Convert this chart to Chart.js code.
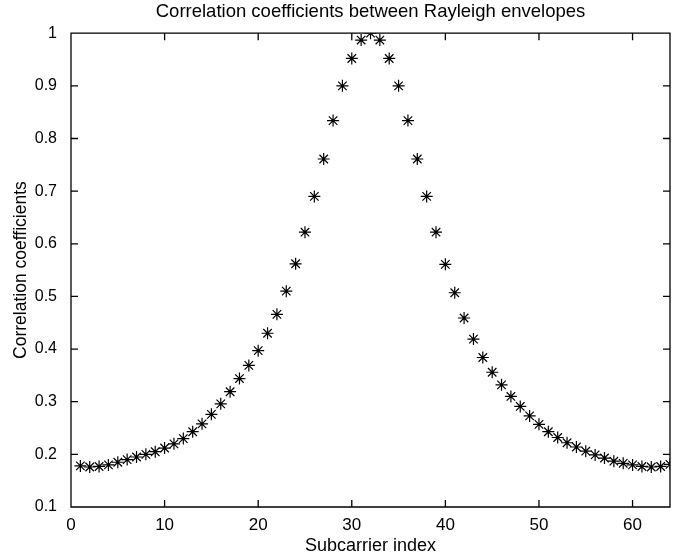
<!DOCTYPE html>
<html>
<head>
<meta charset="utf-8">
<script src="https://cdn.jsdelivr.net/npm/chart.js@4"></script>
<style>
  html, body { margin: 0; padding: 0; background: #fff; }
  #wrap { width: 684px; height: 557px; position: relative; }
</style>
</head>
<body>
<div id="wrap"><canvas id="chart" width="684" height="557"></canvas></div>
<script>
// subcarrier index (x)
const subcarriers = [
  1, 2, 3, 4, 5, 6, 7, 8, 9, 10, 11, 12, 13, 14, 15, 16,
  17, 18, 19, 20, 21, 22, 23, 24, 25, 26, 27, 28, 29, 30, 31, 32,
  33, 34, 35, 36, 37, 38, 39, 40, 41, 42, 43, 44, 45, 46, 47, 48,
  49, 50, 51, 52, 53, 54, 55, 56, 57, 58, 59, 60, 61, 62, 63, 64
];
// correlation coefficients
const correlation = [
  0.178, 0.176, 0.177, 0.180, 0.185, 0.190, 0.195, 0.200,
  0.205, 0.212, 0.220, 0.230, 0.243, 0.258, 0.276, 0.296,
  0.319, 0.344, 0.369, 0.397, 0.430, 0.466, 0.510, 0.562,
  0.622, 0.690, 0.761, 0.834, 0.900, 0.952, 0.987, 1.000,
  0.987, 0.952, 0.900, 0.834, 0.761, 0.690, 0.622, 0.561,
  0.507, 0.459, 0.419, 0.384, 0.356, 0.332, 0.310, 0.291,
  0.273, 0.257, 0.243, 0.232, 0.222, 0.214, 0.206, 0.199,
  0.193, 0.187, 0.183, 0.180, 0.177, 0.176, 0.177, 0.181
];
const xTicks = [0, 10, 20, 30, 40, 50, 60];
const yTicks = [0.1, 0.2, 0.3, 0.4, 0.5, 0.6, 0.7, 0.8, 0.9, 1];

const FONT = '"Liberation Sans", Arial, Helvetica, sans-serif';

// matlab style box with inward ticks on all four sides
function drawBox(chart) {
  const c = chart.ctx;
  const a = chart.chartArea;
  const len = 7;
  c.save();
  c.strokeStyle = '#000000';
  c.lineWidth = 1.3;
  c.setLineDash([]);
  c.beginPath();
  c.moveTo(a.left, a.top); c.lineTo(a.right, a.top);
  c.lineTo(a.right, a.bottom); c.lineTo(a.left, a.bottom);
  c.closePath();
  xTicks.forEach(v => {
    const px = chart.scales.x.getPixelForValue(v);
    c.moveTo(px, a.bottom); c.lineTo(px, a.bottom - len);
    c.moveTo(px, a.top); c.lineTo(px, a.top + len);
  });
  yTicks.forEach(v => {
    const py = chart.scales.y.getPixelForValue(v);
    c.moveTo(a.left, py); c.lineTo(a.left + len, py);
    c.moveTo(a.right, py); c.lineTo(a.right - len, py);
  });
  c.stroke();
  c.restore();
}

const chartCtx = document.getElementById('chart').getContext('2d');
const chart = new Chart(chartCtx, {
  type: 'scatter',
  data: {
    datasets: [{
      data: subcarriers.map((x, i) => ({ x: x, y: correlation[i] })),
      showLine: false,
      pointStyle: 'star',
      pointRadius: 6,
      borderColor: '#000',
      backgroundColor: '#000',
      borderWidth: 1.2
    }]
  },
  options: {
    responsive: false,
    animation: false,
    layout: { padding: { left: 0, right: 14, top: 0, bottom: 0 } },
    plugins: {
      legend: { display: false },
      tooltip: { enabled: false },
      title: {
        display: true,
        fullSize: false,
        text: 'Correlation coefficients between Rayleigh envelopes',
        color: '#000',
        font: { family: FONT, size: 18.5, weight: 'normal' },
        padding: { top: 1, bottom: 10 }
      }
    },
    scales: {
      x: {
        type: 'linear',
        min: 0,
        max: 64,
        afterBuildTicks: s => { s.ticks = xTicks.map(v => ({ value: v })); },
        afterFit: s => { s.height = 50; },
        grid: { display: false, drawTicks: false },
        border: { display: false },
        ticks: { color: '#000', font: { family: FONT, size: 17 }, padding: 8, maxRotation: 0 },
        title: {
          display: true,
          text: 'Subcarrier index',
          color: '#000',
          font: { family: FONT, size: 18 },
          padding: { top: 0, bottom: 0 }
        }
      },
      y: {
        min: 0.1,
        max: 1,
        afterBuildTicks: s => { s.ticks = yTicks.map(v => ({ value: v })); },
        afterFit: s => { s.width = 71; },
        grid: { display: false, drawTicks: false },
        border: { display: false },
        ticks: {
          color: '#000',
          font: { family: FONT, size: 16 },
          padding: 14,
          callback: v => String(Math.round(v * 10) / 10)
        },
        title: {
          display: true,
          text: 'Correlation coefficients',
          color: '#000',
          font: { family: FONT, size: 17.5 },
          padding: { top: 11, bottom: 0 }
        }
      }
    }
  },
  plugins: [{ id: 'boxTicks', afterDraw: drawBox }]
});
</script>
</body>
</html>
